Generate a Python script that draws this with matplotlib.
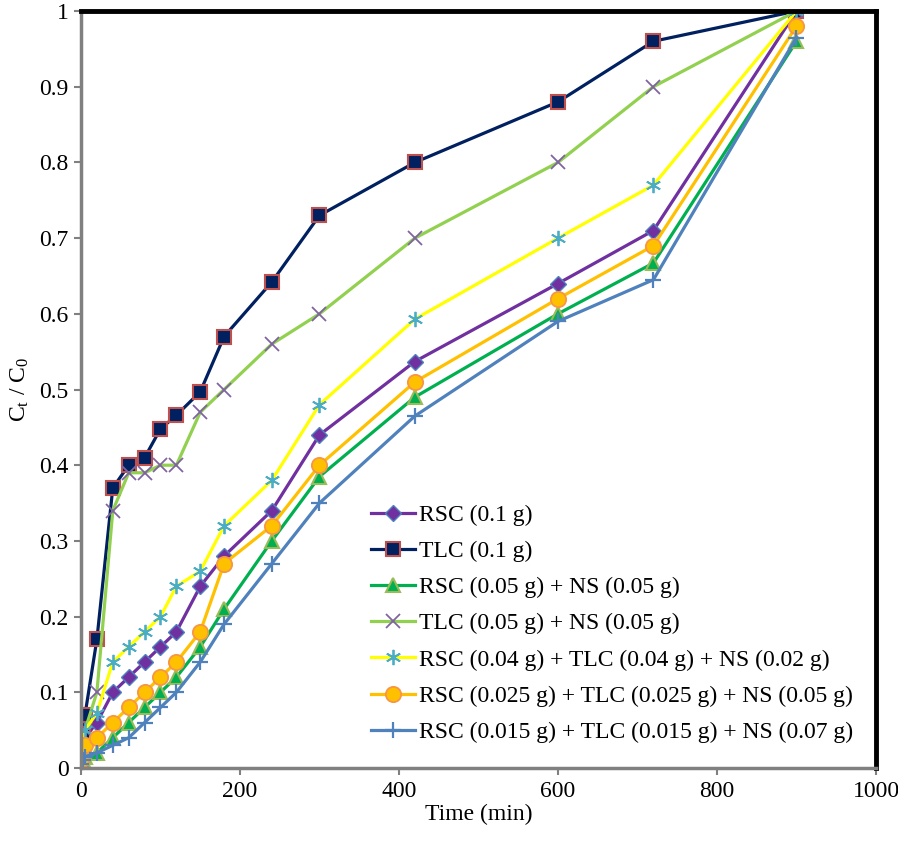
from matplotlib import pyplot as plt

# time points (min)
time = [0, 2, 5, 20, 40, 60, 80, 100, 120, 150, 180, 240, 300, 420, 600, 720, 900]

rsc_01 = [0.01, 0.02, 0.04, 0.06, 0.10, 0.12, 0.14, 0.16, 0.18, 0.24, 0.28, 0.34, 0.44, 0.537, 0.64, 0.71, 1.0]
tlc_01 = [0.02, 0.045, 0.07, 0.17, 0.37, 0.40, 0.41, 0.448, 0.466, 0.497, 0.57, 0.642, 0.73, 0.80, 0.88, 0.96, 1.0]
rsc_ns = [0.005, 0.01, 0.015, 0.02, 0.04, 0.06, 0.08, 0.10, 0.12, 0.16, 0.21, 0.30, 0.385, 0.49, 0.60, 0.667, 0.96]
tlc_ns = [0.01, 0.03, 0.05, 0.10, 0.34, 0.39, 0.39, 0.40, 0.40, 0.47, 0.50, 0.56, 0.60, 0.70, 0.80, 0.90, 1.0]
mix_004 = [0.01, 0.03, 0.05, 0.073, 0.14, 0.16, 0.18, 0.20, 0.24, 0.26, 0.32, 0.38, 0.48, 0.593, 0.70, 0.77, 1.0]
mix_0025 = [0.01, 0.02, 0.03, 0.04, 0.06, 0.08, 0.10, 0.12, 0.14, 0.18, 0.27, 0.32, 0.40, 0.51, 0.62, 0.69, 0.98]
mix_0015 = [0.005, 0.01, 0.015, 0.02, 0.03, 0.04, 0.06, 0.08, 0.10, 0.14, 0.19, 0.27, 0.35, 0.465, 0.59, 0.645, 0.965]

labels = ['RSC (0.1 g)', 'TLC (0.1 g)', 'RSC (0.05 g) + NS (0.05 g)',
          'TLC (0.05 g) + NS (0.05 g)', 'RSC (0.04 g) + TLC (0.04 g) + NS (0.02 g)',
          'RSC (0.025 g) + TLC (0.025 g) + NS (0.05 g)',
          'RSC (0.015 g) + TLC (0.015 g) + NS (0.07 g)']

xticks = [0, 200, 400, 600, 800, 1000]
yticks = [0, 0.1, 0.2, 0.3, 0.4, 0.5, 0.6, 0.7, 0.8, 0.9, 1]
ytick_labels = ['0', '0.1', '0.2', '0.3', '0.4', '0.5', '0.6', '0.7', '0.8', '0.9', '1']


def main():
    plt.rcParams['font.family'] = ['Liberation Serif', 'DejaVu Serif']
    plt.rcParams['mathtext.fontset'] = 'custom'
    plt.rcParams['mathtext.rm'] = 'Liberation Serif'
    plt.rcParams['mathtext.it'] = 'Liberation Serif'

    fig = plt.figure(figsize=(8.98, 8.41), dpi=100)
    ax = fig.add_axes([0.0902, 0.0868, 0.8853, 0.9001])

    lw = 2.3
    ms = 9
    ax.plot(time, rsc_01, color='#7030A0', lw=lw, marker='D', ms=ms - 1,
            mfc='#7030A0', mec='#4F81BD', mew=1, label=labels[0])
    ax.plot(time, tlc_01, color='#002060', lw=lw, marker='s', ms=ms + 1,
            mfc='#002060', mec='#C0504D', mew=1.5, label=labels[1])
    ax.plot(time, rsc_ns, color='#00B050', lw=lw, marker='^', ms=ms + 1,
            mfc='#00B050', mec='#9BBB59', mew=1.5, label=labels[2])
    ax.plot(time, tlc_ns, color='#92D050', lw=lw, marker='x', ms=ms + 1,
            mec='#8064A2', mew=1.3, label=labels[3])
    ax.plot(time, mix_004, color='#FFFF00', lw=lw, marker=(6, 2, 0), ms=ms + 2,
            mec='#4BACC6', mew=1.3, label=labels[4])
    ax.plot(time, mix_0025, color='#FFC000', lw=lw, marker='o', ms=ms + 2,
            mfc='#FFC000', mec='#F79646', mew=1.3, label=labels[5])
    ax.plot(time, mix_0015, color='#4F81BD', lw=lw, marker='+', ms=ms + 3,
            mec='#4F81BD', mew=1.6, label=labels[6])

    ax.set_xlim(0, 1000)
    ax.set_ylim(0, 1)
    ax.set_xticks(xticks)
    ax.set_yticks(yticks, ytick_labels)
    ax.tick_params(labelsize=17, color='#808080', length=5, width=1.5,
                   direction='out', pad=4)

    for side in ['left', 'bottom']:
        ax.spines[side].set_color('#808080')
        ax.spines[side].set_linewidth(2.5)
    for side in ['top', 'right']:
        ax.spines[side].set_color('black')
        ax.spines[side].set_linewidth(3.5)

    ax.set_xlabel('Time (min)', fontsize=17, labelpad=2)
    ax.set_ylabel(r'C$_\mathregular{t}$ / C$_\mathregular{0}$', fontsize=17, labelpad=6)

    ax.legend(loc='lower right', bbox_to_anchor=(0.998, 0.005), frameon=False,
              fontsize=17, handlelength=1.9, handletextpad=0.15,
              labelspacing=0.62, borderaxespad=0.5)

    fig.savefig('out.png', dpi=100)


if __name__ == "__main__":
    main()
